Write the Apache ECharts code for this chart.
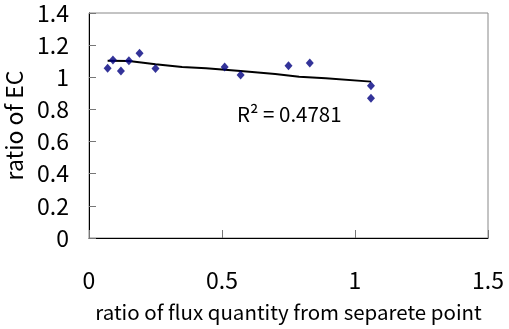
<!DOCTYPE html>
<html>
<head>
<meta charset="utf-8">
<style>
  html, body {margin: 0; padding: 0; background: #fff;}
  #chart {width: 509px; height: 329px;}
</style>
<script src="https://cdn.jsdelivr.net/npm/echarts@6/dist/echarts.min.js"></script>
</head>
<body>
<div id="chart"></div>
<script>
// measured points (ratio of flux quantity, ratio of EC)
const fluxRatio = [0.07, 0.09, 0.12, 0.15, 0.19, 0.25, 0.51, 0.57, 0.75, 0.83, 1.06, 1.06]
const ecRatio = [1.056, 1.108, 1.039, 1.103, 1.149, 1.054, 1.064, 1.014, 1.072, 1.089, 0.948, 0.869]

// trendline as drawn in the picture
const trendX = [0.07, 0.15, 0.25, 0.35, 0.44, 0.57, 0.70, 0.79, 0.89, 1.06]
const trendY = [1.103, 1.101, 1.081, 1.064, 1.056, 1.039, 1.021, 1.004, 0.994, 0.973]

const rSquaredText = 'R² = 0.4781'

const font = '"Noto Sans CJK JP", "Liberation Sans", sans-serif'

const chart = echarts.init(document.getElementById('chart'))

chart.setOption({
  animation: false,
  backgroundColor: '#fff',
  grid: {
    left: 89,
    right: 21,
    top: 13,
    bottom: 91,
    outerBoundsMode: 'none',
    show: true,
    borderColor: '#888',
    borderWidth: 1
  },
  xAxis: {
    type: 'value',
    min: 0,
    max: 1.5,
    interval: 0.5,
    name: 'ratio of flux quantity from separete point',
    nameLocation: 'middle',
    nameGap: 64,
    nameTextStyle: {fontFamily: font, fontSize: 20.5, color: '#000'},
    axisLine: {show: true, lineStyle: {color: '#000', width: 1}},
    axisTick: {show: true, inside: true, length: 8, lineStyle: {color: '#777'}},
    axisLabel: {margin: 31, fontFamily: font, fontSize: 23, color: '#000'},
    splitLine: {show: false}
  },
  yAxis: {
    type: 'value',
    min: 0,
    max: 1.4,
    interval: 0.2,
    name: 'ratio of EC',
    nameLocation: 'middle',
    nameGap: 57,
    nameTextStyle: {fontFamily: font, fontSize: 23, color: '#000'},
    axisLine: {show: true, lineStyle: {color: '#000', width: 1}},
    axisTick: {show: true, inside: true, length: 7, lineStyle: {color: '#777'}},
    axisLabel: {margin: 20, fontFamily: font, fontSize: 23, color: '#000'},
    splitLine: {show: false}
  },
  series: [
    {
      name: 'trend',
      type: 'line',
      data: trendX.map((x, i) => [x, trendY[i]]),
      symbol: 'none',
      lineStyle: {color: '#000', width: 2},
      z: 2
    },
    {
      name: 'EC',
      type: 'scatter',
      data: fluxRatio.map((x, i) => [x, ecRatio[i]]),
      symbol: 'diamond',
      symbolSize: [8, 9],
      itemStyle: {color: '#000080'},
      z: 3
    }
  ],
  graphic: [
    {
      type: 'text',
      left: 237,
      top: 104,
      style: {
        text: rSquaredText,
        fontFamily: font,
        fontSize: 20.5,
        fill: '#000'
      }
    }
  ]
})
</script>
</body>
</html>
